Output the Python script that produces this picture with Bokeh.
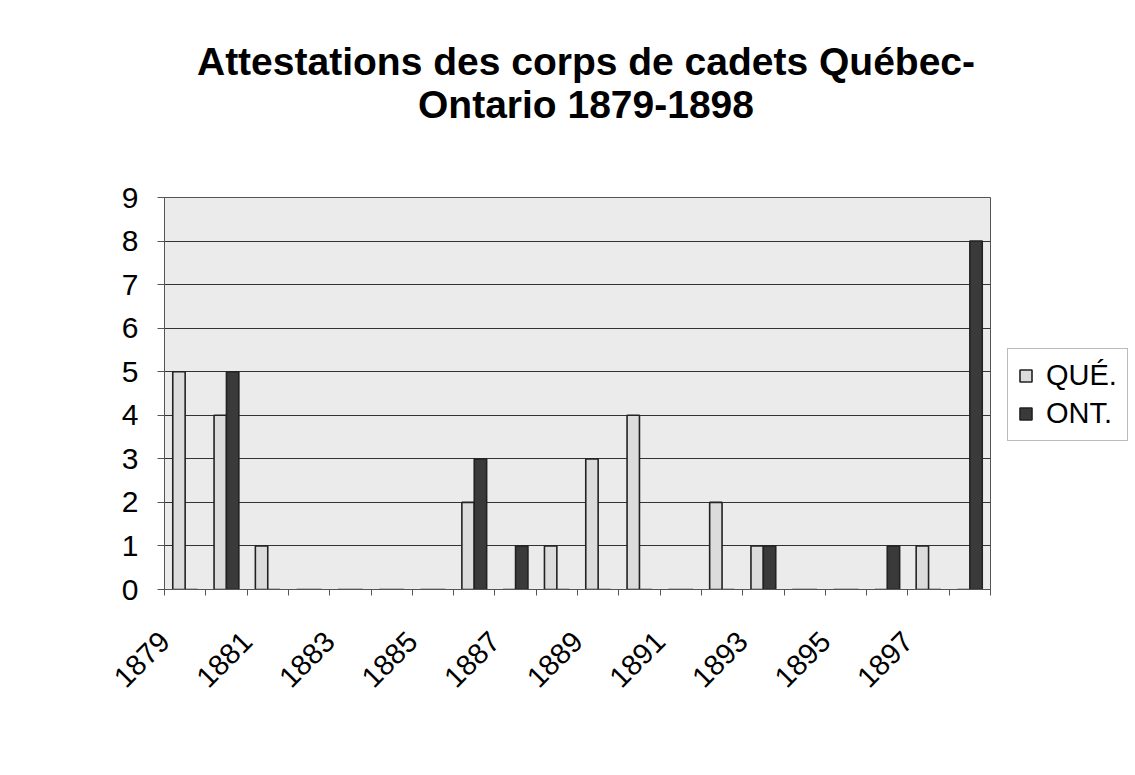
import numpy as np
from bokeh.plotting import figure
from bokeh.layouts import column, row
from bokeh.models import (Range1d, FixedTicker, Legend, LegendItem, Div,
                          ColumnDataSource)
from bokeh.embed import file_html
from bokeh.resources import INLINE

# ---- data ----
years = [str(y) for y in range(1879, 1899)]
que = [5, 4, 1, 0, 0, 0, 0, 2, 0, 1, 3, 4, 0, 2, 1, 0, 0, 0, 1, 0]
ont = [0, 5, 0, 0, 0, 0, 0, 3, 1, 0, 0, 0, 0, 0, 1, 0, 0, 1, 0, 8]
series_names = ["QUÉ.", "ONT."]
yticks = list(range(0, 10))
title_lines = ["Attestations des corps de cadets Québec-", "Ontario 1879-1898"]

FONT = "Liberation Sans"
Q_FILL, O_FILL, BAR_LINE = "#dcdcdc", "#3a3a3a", "#222222"
n = len(years)
idx = np.arange(n)

W = 1130
TITLE_H = 140
FRAME_W, FRAME_H = 826, 392
TOP, BOTTOM, LEFT, RIGHT = 47, 180, 164, 5
P_H = TOP + FRAME_H + BOTTOM

title_div = Div(
    text="<br>".join(title_lines), width=W, height=TITLE_H,
    styles={"text-align": "center", "font-family": "'Liberation Sans'",
            "font-size": "39px", "font-weight": "bold", "line-height": "43px",
            "padding-top": "35px", "padding-left": "32px", "color": "black",
            "box-sizing": "border-box", "width": f"{W}px"})

p = figure(frame_width=FRAME_W, frame_height=FRAME_H, output_backend="svg",
           toolbar_location=None,
           x_range=Range1d(-0.5, n - 0.5), y_range=Range1d(0, 9))
p.min_border_left = LEFT
p.min_border_right = RIGHT
p.min_border_top = TOP
p.min_border_bottom = BOTTOM

p.background_fill_color = "#ebebeb"
p.border_fill_color = "white"
p.outline_line_color = "#555555"
p.outline_line_width = 1

src_q = ColumnDataSource(dict(x=idx - 0.15, top=que))
src_o = ColumnDataSource(dict(x=idx + 0.15, top=ont))
rq = p.vbar(x="x", top="top", width=0.3, source=src_q, fill_color=Q_FILL,
            line_color=BAR_LINE, line_width=1.6)
ro = p.vbar(x="x", top="top", width=0.3, source=src_o, fill_color=O_FILL,
            line_color=BAR_LINE, line_width=1.6)

# grid
p.xgrid.visible = False
p.ygrid.ticker = FixedTicker(ticks=yticks)
p.ygrid.grid_line_color = "#333333"
p.ygrid.grid_line_width = 1.2

# y axis
p.yaxis.ticker = FixedTicker(ticks=yticks)
p.yaxis.major_label_text_font = FONT
p.yaxis.major_label_text_font_size = "30px"
p.yaxis.major_label_text_color = "black"
p.yaxis.axis_line_color = "#555555"
p.yaxis.major_tick_line_color = "#555555"
p.yaxis.major_tick_out = 7
p.yaxis.major_tick_in = 0
p.yaxis.minor_tick_line_color = None
p.yaxis.major_label_standoff = 19

# x axis: ticks at category boundaries, year labels every other year
bounds = [float(i) - 0.5 for i in range(n + 1)]
p.xaxis.ticker = FixedTicker(ticks=bounds)
p.xaxis.major_label_overrides = {
    b: (years[i] if (i < n and i % 2 == 0) else "") for i, b in enumerate(bounds)}
p.xaxis.major_label_orientation = np.pi / 4
p.xaxis.major_label_text_font = FONT
p.xaxis.major_label_text_font_size = "29px"
p.xaxis.major_label_text_color = "black"
p.xaxis.major_tick_line_color = "#555555"
p.xaxis.major_tick_out = 6
p.xaxis.major_tick_in = 0
p.xaxis.minor_tick_line_color = None
p.xaxis.axis_line_color = "#555555"
p.xaxis.major_label_standoff = 41

# legend in a narrow companion figure to the right of the plot
LEG_W = W - (LEFT + FRAME_W + RIGHT)
lf = figure(width=LEG_W, height=P_H, output_backend="svg", toolbar_location=None,
            x_axis_location=None, y_axis_location=None,
            x_range=Range1d(-0.5, n - 0.5), y_range=Range1d(0, 9))
lf.min_border_left = lf.min_border_right = 0
lf.min_border_top = lf.min_border_bottom = 0
lf.outline_line_color = None
lf.background_fill_color = "white"
lf.border_fill_color = "white"
lf.grid.visible = False
lq = lf.vbar(x="x", top="top", width=0.3, source=src_q, fill_color=Q_FILL,
             line_color=BAR_LINE, line_width=1.6, visible=False)
lo = lf.vbar(x="x", top="top", width=0.3, source=src_o, fill_color=O_FILL,
             line_color=BAR_LINE, line_width=1.6, visible=False)

legend = Legend(items=[LegendItem(label=series_names[0], renderers=[lq]),
                       LegendItem(label=series_names[1], renderers=[lo])],
                location=(12, 148))
legend.label_text_font = FONT
legend.label_text_font_size = "29px"
legend.label_text_color = "black"
legend.glyph_width = 15
legend.glyph_height = 15
legend.border_line_color = "#777777"
legend.background_fill_color = "white"
legend.padding = 10
legend.spacing = 5
legend.margin = 0
legend.label_standoff = 13
legend.click_policy = "none"
lf.add_layout(legend)

layout = column(title_div, row(p, lf, spacing=0), spacing=0)
open("out.html", "w").write(file_html(layout, INLINE))
